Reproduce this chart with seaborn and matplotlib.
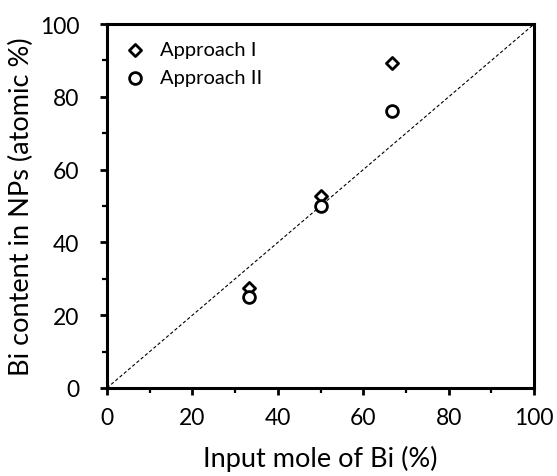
import numpy as np
import pandas as pd
import matplotlib
matplotlib.use("Agg")
import matplotlib.pyplot as plt
import seaborn as sns
from matplotlib.ticker import MultipleLocator

# values
input_bi = [33.3, 50.0, 66.7]
approach_1 = [27.6, 52.8, 89.3]
approach_2 = [24.9, 50.0, 76.2]
labels = ["Approach I", "Approach II"]

sns.set_style("white")
plt.rcParams["font.family"] = ["Lato", "DejaVu Sans"]
plt.rcParams["text.color"] = "black"
plt.rcParams["axes.labelcolor"] = "black"
plt.rcParams["xtick.color"] = "black"
plt.rcParams["ytick.color"] = "black"

fig = plt.figure(figsize=(5.57, 4.77), dpi=100)
ax = fig.add_axes([0.192, 0.1845, 0.767, 0.763])

ax.plot([0, 100], [0, 100], ls=(0, (3, 2)), color="black", lw=0.8, zorder=1)

sns.scatterplot(x=input_bi, y=approach_1, marker="D", s=38, color="white",
                edgecolor="black", linewidth=2.0, label=labels[0], ax=ax, zorder=3)
sns.scatterplot(x=input_bi, y=approach_2, marker="o", s=72, color="white",
                edgecolor="black", linewidth=2.0, label=labels[1], ax=ax, zorder=3)

ax.set_xlim(0, 100)
ax.set_ylim(0, 100)
ax.xaxis.set_major_locator(MultipleLocator(20))
ax.xaxis.set_minor_locator(MultipleLocator(10))
ax.yaxis.set_major_locator(MultipleLocator(20))
ax.yaxis.set_minor_locator(MultipleLocator(10))
ax.tick_params(which="major", direction="out", length=5, width=2,
               labelsize=16.5, bottom=True, left=True)
ax.tick_params(which="minor", direction="out", length=3.5, width=1.6,
               bottom=True, left=True)
ax.tick_params(axis="x", which="major", pad=9)
ax.tick_params(axis="y", which="major", pad=15)
for sp in ax.spines.values():
    sp.set_linewidth(2.2)
    sp.set_color("black")

ax.set_xlabel("Input mole of Bi (%)", fontsize=19.5, labelpad=12)
ax.set_ylabel("Bi content in NPs (atomic %)", fontsize=19.5, labelpad=4)

leg = ax.legend(loc="upper left", bbox_to_anchor=(0.023, 0.975),
                borderaxespad=0, frameon=False, fontsize=14.5,
                handlelength=1.0, handletextpad=0.75, labelspacing=0.55)

fig.savefig("out.png", dpi=100)
